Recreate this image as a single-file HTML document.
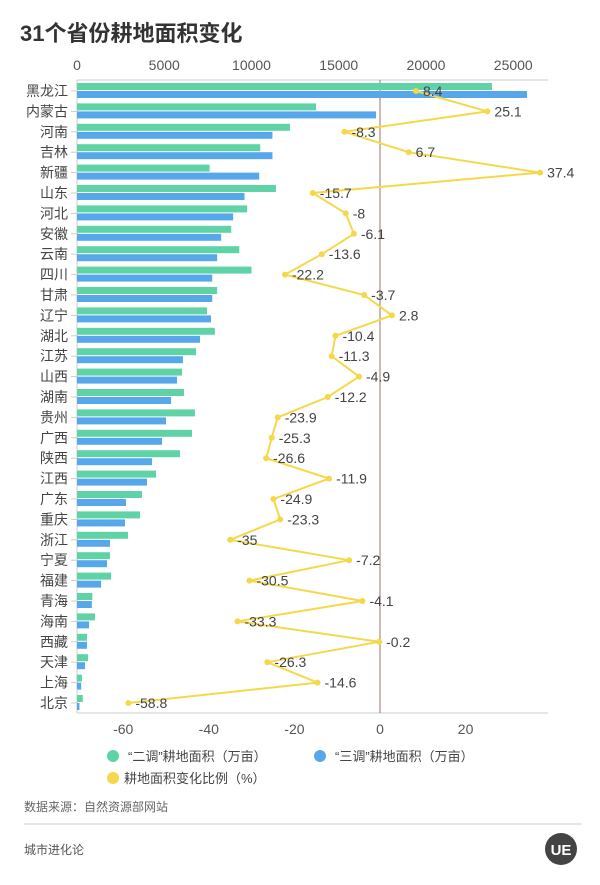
<!DOCTYPE html>
<html><head><meta charset="utf-8"><style>
html,body{margin:0;padding:0;background:#fff;}
body{width:600px;height:880px;overflow:hidden;font-family:"Liberation Sans","Noto Sans CJK SC",sans-serif;}
</style></head><body>
<svg id="s" width="600" height="880" xmlns="http://www.w3.org/2000/svg" font-family="Liberation Sans, Noto Sans CJK SC, sans-serif"></svg>
<script>
const d=[["黑龙江",23780,25787,8.4],["内蒙古",13700,17140,25.1],["河南",12200,11200,-8.3],["吉林",10500,11200,6.7],["新疆",7600,10440,37.4],["山东",11400,9600,-15.7],["河北",9750,8950,-8],["安徽",8840,8260,-6.1],["云南",9300,8030,-13.6],["四川",10000,7750,-22.2],["甘肃",8030,7750,-3.7],["辽宁",7450,7680,2.8],["湖北",7900,7050,-10.4],["江苏",6820,6070,-11.3],["山西",6020,5730,-4.9],["湖南",6130,5390,-12.2],["贵州",6760,5100,-23.9],["广西",6590,4870,-25.3],["陕西",5900,4300,-26.6],["江西",4530,4010,-11.9],["广东",3720,2810,-24.9],["重庆",3610,2750,-23.3],["浙江",2920,1890,-35],["宁夏",1890,1720,-7.2],["福建",1950,1380,-30.5],["青海",880,850,-4.1],["海南",1030,690,-33.3],["西藏",570,570,-0.2],["天津",630,460,-26.3],["上海",280,240,-14.6],["北京",330,140,-58.8]];
let h='';
const X0=77,k=0.01745,P0=380,pk=4.28;
h+='<text x="20" y="41" font-size="22" font-weight="bold" fill="#333">31个省份耕地面积变化</text>';
[0,5000,10000,15000,20000,25000].forEach(v=>{const x=X0+v*k;h+=`<text x="${x}" y="70" font-size="14" fill="#555" text-anchor="middle">${v}</text>`;});
h+=`<line x1="${X0}" y1="80" x2="548" y2="80" stroke="#ccc"/>`;
h+=`<line x1="${X0}" y1="80" x2="${X0}" y2="713" stroke="#ccc"/>`;
h+=`<line x1="${X0}" y1="713" x2="548" y2="713" stroke="#ccc"/>`;
h+=`<line x1="${P0}" y1="80" x2="${P0}" y2="713" stroke="#a0706a" stroke-width="1"/>`;
[-60,-40,-20,0,20].forEach(v=>{const x=P0+v*pk;h+=`<text x="${x}" y="734" font-size="14" fill="#555" text-anchor="middle">${v}</text>`;});
let pts=[];
d.forEach((r,i)=>{const c=91+i*20.4;
h+=`<text x="68" y="${c+5}" font-size="14" fill="#444" text-anchor="end">${r[0]}</text>`;
h+=`<line x1="71" y1="${c}" x2="${X0}" y2="${c}" stroke="#ccc"/>`;
h+=`<rect x="${X0}" y="${c-8}" width="${Math.max(1,r[1]*k)}" height="7" fill="#5fd3a6"/>`;
h+=`<rect x="${X0}" y="${c}" width="${Math.max(1,r[2]*k)}" height="7" fill="#57a8ea"/>`;
pts.push([P0+r[3]*pk,c,r[3]]);});
h+=`<polyline points="${pts.map(p=>p[0]+','+p[1]).join(' ')}" fill="none" stroke="#f5d84a" stroke-width="2"/>`;
pts.forEach(p=>{h+=`<circle cx="${p[0]}" cy="${p[1]}" r="3" fill="#f5d84a"/>`;h+=`<text x="${p[0]+7}" y="${p[1]+5}" font-size="14" fill="#444">${p[2]}</text>`;});
h+='<circle cx="113" cy="756" r="6" fill="#5fd3a6"/><text x="128" y="761" font-size="13" fill="#444">“二调”耕地面积（万亩）</text>';
h+='<circle cx="320" cy="756" r="6" fill="#57a8ea"/><text x="335" y="761" font-size="13" fill="#444">“三调”耕地面积（万亩）</text>';
h+='<circle cx="113" cy="778" r="6" fill="#f5d84a"/><text x="124" y="783" font-size="13" fill="#444">耕地面积变化比例（%）</text>';
h+='<text x="24" y="811" font-size="12" fill="#666">数据来源：自然资源部网站</text>';
h+='<line x1="24" y1="824" x2="582" y2="824" stroke="#ccc"/>';
h+='<text x="24" y="854" font-size="12" fill="#555">城市进化论</text>';
h+='<circle cx="561" cy="849" r="16" fill="#444"/><text x="561" y="855" font-size="15" font-weight="bold" fill="#fff" text-anchor="middle">UE</text>';
document.getElementById('s').innerHTML=h;
</script>
</body></html>
